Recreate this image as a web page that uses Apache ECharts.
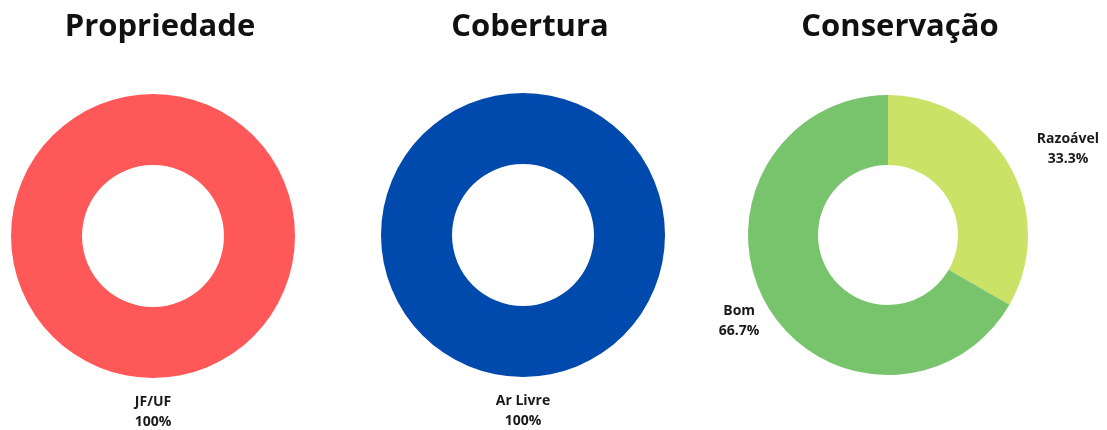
<!DOCTYPE html>
<html>
<head>
<meta charset="utf-8">
<script src="https://cdn.jsdelivr.net/npm/echarts@6/dist/echarts.min.js"></script>
<style>
  html, body { margin: 0; padding: 0; background: #fff; }
  #chart { width: 1107px; height: 430px; }
</style>
</head>
<body>
<div id="chart"></div>
<script>
// data
const titulos = ['Propriedade', 'Cobertura', 'Conservação']

const propriedadeNomes = ['JF/UF']
const propriedadeValores = [100]

const coberturaNomes = ['Ar Livre']
const coberturaValores = [100]

const conservacaoNomes = ['Razoável', 'Bom']
const conservacaoValores = [33.3, 66.7]

const chart = echarts.init(document.getElementById('chart'))

const fonte = "'Open Sans', 'Noto Sans', sans-serif"

function toData(nomes, valores) {
  return nomes.map((n, i) => ({ name: n, value: valores[i] }))
}

function donut(data, colors, center, radius, lineLen, labelLayout) {
  return {
    type: 'pie',
    center: center,
    radius: radius,
    startAngle: 90,
    clockwise: true,
    percentPrecision: 1,
    avoidLabelOverlap: false,
    data: data,
    color: colors,
    itemStyle: { borderWidth: 0 },
    emphasis: { disabled: true },
    label: {
      show: true,
      position: 'outside',
      distanceToLabelLine: 0,
      formatter: '{t|{b}}\n{t|{d}%}',
      rich: {
        t: {
          align: 'center',
          fontFamily: fonte,
          fontWeight: 'bold',
          fontSize: 14,
          lineHeight: 20,
          color: '#1a1a1a'
        }
      }
    },
    labelLine: { show: false, length: lineLen, length2: 0 },
    labelLayout: labelLayout
  }
}

const tituloX = [160, 530, 900]

chart.setOption({
  animation: false,
  backgroundColor: '#ffffff',
  title: titulos.map((t, i) => ({
    text: t,
    left: tituloX[i],
    top: 12,
    padding: 0,
    textAlign: 'center',
    textStyle: {
      fontFamily: fonte,
      fontWeight: 'bold',
      fontSize: 31,
      color: '#111111'
    }
  })),
  series: [
    donut(toData(propriedadeNomes, propriedadeValores), ['#FF5858'],
      [153, 236], [71, 142], 34, { align: 'center' }),
    donut(toData(coberturaNomes, coberturaValores), ['#004AAD'],
      [523, 235], [71, 142], 34, { align: 'center' }),
    donut(toData(conservacaoNomes, conservacaoValores), ['#CAE265', '#77C46C'],
      [888, 235], [70, 140], 32,
      p => (p.dataIndex === 1 ? { align: 'center' } : {}))
  ]
})
</script>
</body>
</html>
